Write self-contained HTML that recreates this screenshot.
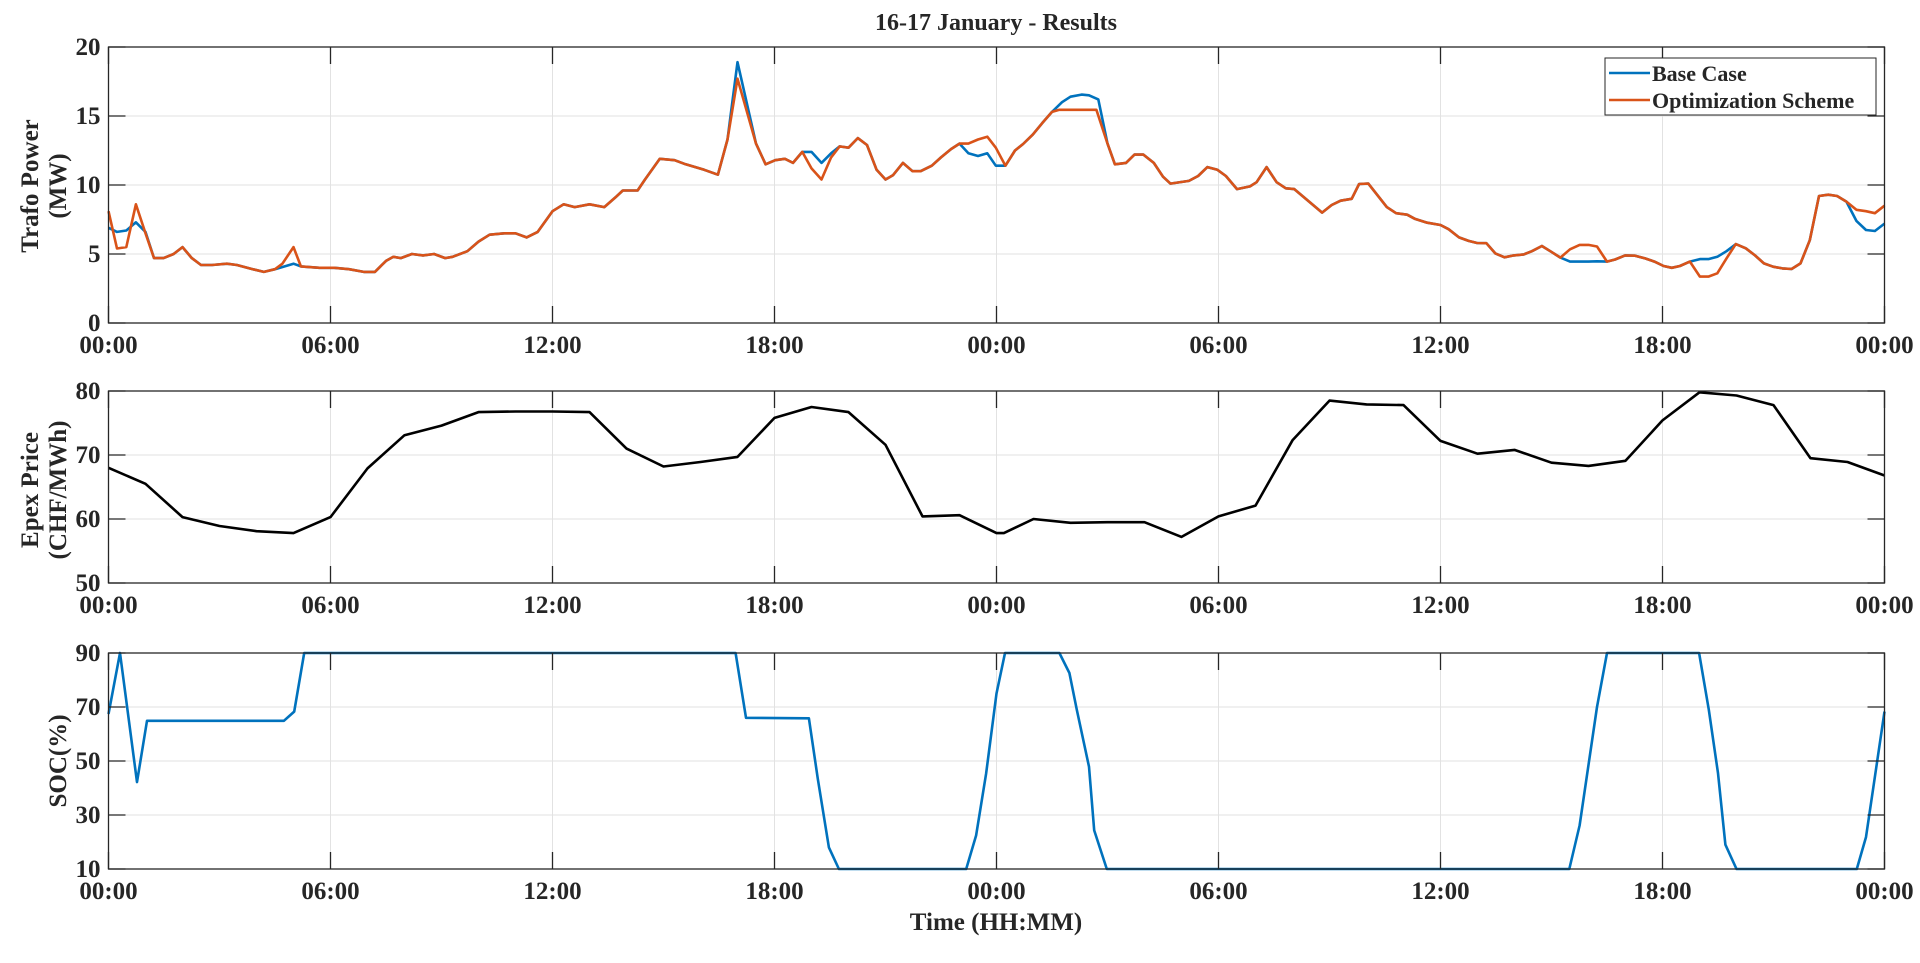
<!DOCTYPE html>
<html><head><meta charset="utf-8"><style>
html,body{margin:0;padding:0;background:#fff;}
svg{display:block;}
text{font-family:"Liberation Serif",serif;font-weight:bold;fill:#262626;}
</style></head><body>
<svg id="s" width="1920" height="963" xmlns="http://www.w3.org/2000/svg"></svg>
<script>
const S=document.getElementById('s');
const X0=108.5,X1=1884.5,PH=(X1-X0)/48;
let h='';
function ax(top,bot,vmin,vmax,yt){
  const Y=v=>bot-(v-vmin)/(vmax-vmin)*(bot-top);
  for(let k=1;k<8;k++){const x=X0+k*6*PH;h+=`<line x1="${x}" y1="${top}" x2="${x}" y2="${bot}" stroke="#e2e2e2" stroke-width="1"/>`;}
  yt.forEach(v=>{const y=Y(v);if(v!=vmin&&v!=vmax)h+=`<line x1="${X0}" y1="${y}" x2="${X1}" y2="${y}" stroke="#e2e2e2" stroke-width="1"/>`;});
  return Y;
}
function frame(top,bot,vmin,vmax,yt,Y){
  let t='';
  for(let k=0;k<=8;k++){const x=X0+k*6*PH;
    t+=`<line x1="${x}" y1="${bot}" x2="${x}" y2="${bot-17}" stroke="#262626" stroke-width="1.3"/><line x1="${x}" y1="${top}" x2="${x}" y2="${top+17}" stroke="#262626" stroke-width="1.3"/>`;
    const lab=['00:00','06:00','12:00','18:00','00:00','06:00','12:00','18:00','00:00'][k];
    t+=`<text x="${x}" y="${bot+30}" font-size="25" text-anchor="middle">${lab}</text>`;}
  yt.forEach(v=>{const y=Y(v);
    t+=`<line x1="${X0}" y1="${y}" x2="${X0+17}" y2="${y}" stroke="#262626" stroke-width="1.3"/><line x1="${X1}" y1="${y}" x2="${X1-17}" y2="${y}" stroke="#262626" stroke-width="1.3"/>`;
    t+=`<text x="${X0-8}" y="${y+8}" font-size="25" text-anchor="end">${v}</text>`;});
  t+=`<rect x="${X0}" y="${top}" width="${X1-X0}" height="${bot-top}" fill="none" stroke="#262626" stroke-width="1.3"/>`;
  return t;
}
function pl(pts,Y,col,w){return `<polyline fill="none" stroke="${col}" stroke-width="${w}" stroke-linejoin="round" points="${pts.map(p=>(X0+p[0]*PH).toFixed(1)+','+Y(p[1]).toFixed(1)).join(' ')}"/>`;}
function merge(base,a,b,pts){return base.filter(p=>p[0]<a||p[0]>b).concat(pts).sort((u,v)=>u[0]-v[0]);}

// top
const O=[[0,8.1],[0.23,5.4],[0.48,5.5],[0.74,8.6],[1.0,6.5],[1.23,4.7],[1.49,4.7],[1.76,5.0],[2.0,5.5],[2.25,4.7],[2.5,4.2],[2.8,4.2],[3.2,4.3],[3.47,4.2],[3.9,3.9],[4.2,3.7],[4.5,3.9],[4.7,4.3],[5.0,5.5],[5.2,4.1],[5.7,4.0],[6.1,4.0],[6.5,3.9],[6.9,3.7],[7.2,3.7],[7.5,4.5],[7.7,4.8],[7.9,4.7],[8.2,5.0],[8.5,4.9],[8.8,5.0],[9.1,4.7],[9.3,4.8],[9.7,5.2],[10.0,5.9],[10.3,6.4],[10.7,6.5],[11.0,6.5],[11.3,6.2],[11.6,6.6],[12.0,8.1],[12.3,8.6],[12.6,8.4],[13.0,8.6],[13.4,8.4],[13.7,9.1],[13.9,9.6],[14.3,9.6],[14.5,10.4],[14.9,11.9],[15.3,11.8],[15.6,11.5],[16.1,11.1],
[16.47,10.75],[16.73,13.3],[17.0,17.7],[17.5,13.0],[17.76,11.5],[18.02,11.8],[18.28,11.9],[18.5,11.6],[18.75,12.4],[19.0,11.2],[19.27,10.4],[19.53,12.0],[19.76,12.8],[20.0,12.7],[20.25,13.4],[20.5,12.9],[20.76,11.1],[21.0,10.4],[21.2,10.7],[21.47,11.6],[21.73,11.0],[21.95,11.0],[22.25,11.4],[22.5,12.0],[22.77,12.6],[23.0,13.0],[23.24,13.0],[23.5,13.3],[23.75,13.5],[23.98,12.7],[24.24,11.4],[24.5,12.5],[24.72,12.97],[24.98,13.65],[25.24,14.5],[25.5,15.3],[25.7,15.45],[26.7,15.45],[27.0,13.0],[27.2,11.5],[27.5,11.6],[27.73,12.2],[27.97,12.2],[28.25,11.6],[28.5,10.6],[28.7,10.1],[29.2,10.3],[29.45,10.65],[29.7,11.3],[29.97,11.1],[30.2,10.65],[30.5,9.7],
[30.85,9.9],[31.03,10.2],[31.3,11.3],[31.57,10.2],[31.82,9.76],[32.05,9.7],[32.8,8.0],[33.06,8.55],[33.3,8.86],[33.6,9.0],[33.8,10.07],[34.05,10.1],[34.55,8.4],[34.8,7.96],[35.1,7.85],[35.3,7.56],
[35.64,7.27],[36.0,7.1],[36.22,6.8],[36.5,6.2],[36.76,5.95],[36.99,5.8],[37.24,5.78],[37.48,5.04],[37.73,4.76],[37.98,4.9],[38.25,4.97],[38.47,5.2],[38.74,5.58],[38.99,5.17],[39.24,4.74],[39.5,5.34],[39.76,5.66],[40.0,5.66],[40.23,5.54],[40.5,4.45],[40.72,4.6],[40.99,4.9],[41.26,4.88],[41.53,4.68],[41.78,4.45],[42.03,4.13],[42.25,4.0],[42.47,4.13],[42.74,4.45],[43.01,3.36],[43.24,3.36],[43.48,3.6],[43.73,4.68],[43.98,5.72],[44.25,5.41],[44.5,4.9],[44.74,4.32],[44.99,4.08],[45.24,3.96],[45.49,3.91],[45.73,4.32],[45.98,6.0],[46.23,9.2],[46.48,9.3],[46.72,9.2],[46.97,8.8],[47.24,8.2],[47.5,8.1],[47.74,7.96],[48,8.5]];
let B=O;
B=merge(B,0,1.0,[[0,6.9],[0.23,6.6],[0.48,6.7],[0.74,7.3],[1.0,6.6]]);
B=merge(B,4.4,5.3,[[4.5,3.9],[5.0,4.3],[5.2,4.1]]);
B=merge(B,16.9,17.1,[[17.0,18.9]]);
B=merge(B,18.7,19.8,[[18.75,12.4],[19.0,12.4],[19.27,11.6],[19.53,12.3],[19.76,12.8]]);
B=merge(B,22.9,24.3,[[23.0,13.0],[23.24,12.3],[23.5,12.1],[23.75,12.3],[23.98,11.4],[24.24,11.4]]);
B=merge(B,25.4,27.1,[[25.5,15.3],[25.77,16.0],[26.0,16.4],[26.3,16.55],[26.5,16.5],[26.75,16.2],[27.0,13.0]]);
B=merge(B,39.4,40.3,[[39.5,4.45],[40.0,4.45],[40.23,4.47]]);
B=merge(B,42.9,43.9,[[43.01,4.63],[43.24,4.63],[43.48,4.8],[43.73,5.2]]);
B=merge(B,47.1,48,[[47.24,7.4],[47.5,6.74],[47.74,6.67],[48,7.2]]);
let Y1=ax(47,323,0,20,[0,5,10,15,20]);
h+=pl(B,Y1,'#0072BD',2.6)+pl(O,Y1,'#D95319',2.6);
h+=frame(47,323,0,20,[0,5,10,15,20],Y1);
// legend
h+=`<rect x="1605" y="58" width="271" height="57" fill="#fff" stroke="#262626" stroke-width="1"/>`;
h+=`<line x1="1609" y1="73" x2="1650" y2="73" stroke="#0072BD" stroke-width="2.6"/><text x="1652" y="81" font-size="22">Base Case</text>`;
h+=`<line x1="1609" y1="100" x2="1650" y2="100" stroke="#D95319" stroke-width="2.6"/><text x="1652" y="108" font-size="22">Optimization Scheme</text>`;
// middle
const P=[[0,68.0],[1,65.5],[2,60.3],[3,58.9],[4,58.1],[5,57.8],[6,60.3],[7,67.9],[8,73.1],[9,74.6],[10,76.7],[11,76.8],[12,76.8],[13,76.7],[14,71.0],[15,68.2],[16,68.9],[17,69.7],[18,75.8],[19,77.5],[20,76.7],[21,71.6],[22,60.4],[23,60.6],[24,57.8],[24.2,57.8],[25,60.0],[26,59.4],[27,59.5],[28,59.5],[29,57.2],[30,60.4],[31,62.1],[32,72.3],[33,78.5],[34,77.9],[35,77.8],[36,72.2],[37,70.2],[38,70.8],[39,68.8],[40,68.3],[41,69.1],[42,75.4],[43,79.8],[44,79.3],[45,77.8],[46,69.5],[47,68.9],[48,66.8]];
let Y2=ax(391,583,50,80,[50,60,70,80]);
h+=pl(P,Y2,'#000',2.6);
h+=frame(391,583,50,80,[50,60,70,80],Y2);
// bottom
const C=[[0,67.4],[0.31,90],[0.77,42.2],[1.04,64.9],[4.74,64.9],[5.02,68.3],[5.29,90],[16.95,90],[17.23,66],[18.93,65.8],[19.17,43.4],[19.47,18],[19.74,10],[23.18,10],[23.45,22.4],[23.72,45.3],[24.0,75],[24.23,90],[25.7,90],[25.97,82.6],[26.17,69],[26.5,47.9],[26.64,24.3],[26.98,10],[39.48,10],[39.76,26.1],[40.23,70],[40.5,90],[42.99,90],[43.25,69],[43.5,45.5],[43.7,19],[44.0,10],[47.25,10],[47.5,21.8],[47.7,40.4],[48,68.3]];
let Y3=ax(653,869,10,90,[10,30,50,70,90]);
h+=pl(C,Y3,'#0072BD',2.6);
h+=frame(653,869,10,90,[10,30,50,70,90],Y3);
// titles
h+=`<text x="996" y="30" font-size="24" text-anchor="middle">16-17 January - Results</text>`;
h+=`<text x="996" y="930" font-size="25" text-anchor="middle">Time (HH:MM)</text>`;
h+=`<text transform="translate(38,186) rotate(-90)" font-size="25" text-anchor="middle">Trafo Power</text>`;
h+=`<text transform="translate(66,186) rotate(-90)" font-size="25" text-anchor="middle">(MW)</text>`;
h+=`<text transform="translate(38,490) rotate(-90)" font-size="25" text-anchor="middle">Epex Price</text>`;
h+=`<text transform="translate(66,490) rotate(-90)" font-size="25" text-anchor="middle">(CHF/MWh)</text>`;
h+=`<text transform="translate(66,761) rotate(-90)" font-size="25" text-anchor="middle">SOC(%)</text>`;
S.innerHTML=h;
</script>
</body></html>
